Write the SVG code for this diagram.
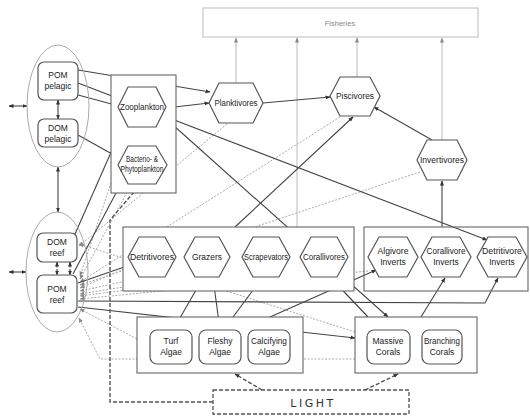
<svg xmlns="http://www.w3.org/2000/svg" width="530" height="417" viewBox="0 0 530 417">
<style>
.b{fill:#fff;stroke:#555;stroke-width:1.2}
.c{fill:#fff;stroke:#666;stroke-width:1.1}
.e{fill:none;stroke:#aaa;stroke-width:1}
.t{font-family:"Liberation Sans",Arial,sans-serif;font-size:8.5px;fill:#222;text-anchor:middle}
.ln{fill:none;stroke:#444;stroke-width:1.1;marker-end:url(#a)}
.dd{fill:none;stroke:#444;stroke-width:1.1;marker-start:url(#a);marker-end:url(#a)}
.lt{fill:none;stroke:#555;stroke-width:1.4;stroke-dasharray:4 2;marker-end:url(#a)}
.gf{fill:none;stroke:#bbb;stroke-width:1;marker-end:url(#g)}
.gd{fill:none;stroke:#aaa;stroke-width:1;stroke-dasharray:2 1.5;marker-end:url(#g)}
</style>
<defs>
<marker id="a" viewBox="0 0 10 10" refX="9" refY="5" markerWidth="5" markerHeight="5" markerUnits="userSpaceOnUse" orient="auto-start-reverse"><path d="M0,1 L10,5 L0,9z" fill="#333"/></marker>
<marker id="g" viewBox="0 0 10 10" refX="9" refY="5" markerWidth="5" markerHeight="5" markerUnits="userSpaceOnUse" orient="auto-start-reverse"><path d="M0,1 L10,5 L0,9z" fill="#888"/></marker>
</defs>
<rect width="530" height="417" fill="#fff"/>
<g id="connectors">
<path class="gd" d="M130,126 L80,276"/>
<path class="gd" d="M132,183 L80,279"/>
<path class="gd" d="M227,124 L79,246"/>
<path class="gd" d="M340,117 L80,282"/>
<path class="gd" d="M420,172 L80,285"/>
<path class="gd" d="M140,262 L80,288"/>
<path class="gd" d="M200,265 L80,291"/>
<path class="gd" d="M260,265 L80,294"/>
<path class="gd" d="M320,265 L80,296"/>
<path class="gd" d="M368,271 L80,299"/>
<path class="gd" d="M137,339 L80,309"/>
<path class="gd" d="M355,359 L100,359 L79,318"/>
<path class="gd" d="M355,332 L79,244"/>
<path class="gf" d="M236,83 L236,38"/>
<path class="gf" d="M297,227 L297,38"/>
<path class="gf" d="M357,77 L357,38"/>
<path class="gf" d="M442,140 L442,38"/>
<path class="ln" d="M78,70 L210,92"/>
<path class="ln" d="M78,83 L487,240"/>
<path class="ln" d="M78,95 L119,106"/>
<path class="ln" d="M78,135 L121,159"/>
<path class="dd" d="M58,100 L58,119"/>
<path class="dd" d="M58,167 L58,212"/>
<path class="dd" d="M9,106 L27,106"/>
<path class="dd" d="M9,272 L26,272"/>
<path class="ln" d="M142,146 L142,128"/>
<path class="ln" d="M166,108 L209,103"/>
<path class="ln" d="M263,103 L330,97"/>
<path class="ln" d="M432,140 L374,107"/>
<path class="ln" d="M164,117 L388,317"/>
<path class="ln" d="M235,227 L353,117"/>
<path class="ln" d="M442,227 L442,181"/>
<path class="ln" d="M75,234 L124,123"/>
<path class="ln" d="M73,274 L124,178"/>
<path class="ln" d="M78,283 L130,265"/>
<path class="ln" d="M78,301 L485,303 L498,278"/>
<path class="ln" d="M78,307 L355,338"/>
<path class="ln" d="M173,330 L203,278"/>
<path class="ln" d="M220,330 L213,278"/>
<path class="ln" d="M233,317 L262,278"/>
<path class="ln" d="M270,317 L376,270"/>
<path class="ln" d="M368,317 L331,278"/>
<path class="ln" d="M421,317 L445,278"/>
<path class="dd" d="M57,262 L57,275" stroke-dasharray="2 1.5"/>
<path class="dd" d="M70,262 L70,275" stroke-dasharray="2 1.5"/>
<path class="lt" d="M213,402 L110,402 L110,220 L140,185"/>
<path class="lt" d="M262,390 L235,374"/>
<path class="lt" d="M365,390 L398,374"/>
</g>
<g id="fisheries"><rect x="203" y="8" width="275" height="29" fill="#fff" stroke="#bbb" stroke-width="1"/><text x="340" y="26" class="t" style="fill:#888;font-size:7.5px">Fisheries</text></g>
<g id="pelagic-pool"><ellipse class="e" cx="58" cy="106" rx="31" ry="61"/></g>
<g id="reef-pool"><ellipse class="e" cx="57" cy="272" rx="31" ry="60"/></g>
<g id="pom-pelagic"><rect class="b" x="38" y="62" width="40" height="38" rx="6"/><text class="t" x="58" y="78">POM</text><text class="t" x="58" y="89">pelagic</text></g>
<g id="dom-pelagic"><rect class="b" x="38" y="119" width="40" height="28" rx="6"/><text class="t" x="58" y="131">DOM</text><text class="t" x="58" y="142">pelagic</text></g>
<g id="dom-reef"><rect class="b" x="37" y="233" width="40" height="29" rx="6"/><text class="t" x="57" y="245">DOM</text><text class="t" x="57" y="256">reef</text></g>
<g id="pom-reef"><rect class="b" x="37" y="275" width="40" height="38" rx="6"/><text class="t" x="57" y="292">POM</text><text class="t" x="57" y="303">reef</text></g>
<g id="plankton-box"><rect class="c" x="111" y="75" width="65" height="118"/></g>
<g id="zooplankton"><polygon class="b" points="118,107 128,87 156,87 166,107 156,127 128,127"/><text class="t" x="142" y="110" textLength="44" lengthAdjust="spacingAndGlyphs">Zooplankton</text></g>
<g id="phytoplankton"><polygon class="b" points="118,165 128,146 156,146 167,165 156,184 128,184"/><text class="t" x="142" y="162" textLength="32" lengthAdjust="spacingAndGlyphs">Bacterio- &amp;</text><text class="t" x="142" y="172" textLength="43" lengthAdjust="spacingAndGlyphs">Phytoplankton</text></g>
<g id="planktivores"><polygon class="b" points="209,103 219,83 253,83 263,103 253,123 219,123"/><text class="t" x="236" y="106" textLength="43" lengthAdjust="spacingAndGlyphs">Planktivores</text></g>
<g id="piscivores"><polygon class="b" points="330,96 340,77 370,77 380,96 370,116 340,116"/><text class="t" x="355" y="99" textLength="38" lengthAdjust="spacingAndGlyphs">Piscivores</text></g>
<g id="invertivores"><polygon class="b" points="417,160 427,140 457,140 467,160 457,180 427,180"/><text class="t" x="442" y="163" textLength="44" lengthAdjust="spacingAndGlyphs">Invertivores</text></g>
<g id="fish-box"><rect class="c" x="123" y="227" width="231" height="64"/></g>
<g id="detritivores"><polygon class="b" points="128,257 139,237 165,237 176,257 165,277 139,277"/><text class="t" x="152" y="260" textLength="44" lengthAdjust="spacingAndGlyphs">Detritivores</text></g>
<g id="grazers"><polygon class="b" points="184,257 195,237 219,237 230,257 219,277 195,277"/><text class="t" x="207" y="260">Grazers</text></g>
<g id="scrapevators"><polygon class="b" points="242,257 253,237 279,237 290,257 279,277 253,277"/><text class="t" x="266" y="260" textLength="44" lengthAdjust="spacingAndGlyphs">Scrapevators</text></g>
<g id="corallivores"><polygon class="b" points="300,257 311,237 337,237 348,257 337,277 311,277"/><text class="t" x="324" y="260" textLength="42" lengthAdjust="spacingAndGlyphs">Corallivores</text></g>
<g id="invert-box"><rect x="364" y="227" width="164" height="64" fill="none" stroke="#666" stroke-width="1.1"/></g>
<g id="algivore-inverts"><polygon class="b" points="368,257 379,237 407,237 418,257 407,277 379,277"/><text class="t" x="393" y="254" textLength="31" lengthAdjust="spacingAndGlyphs">Algivore</text><text class="t" x="393" y="265">Inverts</text></g>
<g id="corallivore-inverts"><polygon class="b" points="421,257 432,237 460,237 471,257 460,277 432,277"/><text class="t" x="446" y="254" textLength="39" lengthAdjust="spacingAndGlyphs">Corallivore</text><text class="t" x="446" y="265">Inverts</text></g>
<g id="detritivore-inverts"><polygon class="b" points="477,257 488,237 516,237 527,257 516,277 488,277"/><text class="t" x="502" y="254" textLength="40" lengthAdjust="spacingAndGlyphs">Detritivore</text><text class="t" x="502" y="265">Inverts</text></g>
<g id="algae-box"><rect class="c" x="137" y="317" width="166" height="56"/></g>
<g id="turf-algae"><rect class="b" x="150" y="330" width="42" height="34" rx="7"/><text class="t" x="171" y="344">Turf</text><text class="t" x="171" y="355">Algae</text></g>
<g id="fleshy-algae"><rect class="b" x="199" y="330" width="42" height="34" rx="7"/><text class="t" x="220" y="344">Fleshy</text><text class="t" x="220" y="355">Algae</text></g>
<g id="calcifying-algae"><rect class="b" x="248" y="330" width="42" height="34" rx="7"/><text class="t" x="269" y="344" textLength="36" lengthAdjust="spacingAndGlyphs">Calcifying</text><text class="t" x="269" y="355">Algae</text></g>
<g id="corals-box"><rect class="c" x="355" y="317" width="122" height="56"/></g>
<g id="massive-corals"><rect class="b" x="367" y="330" width="43" height="34" rx="7"/><text class="t" x="388" y="344">Massive</text><text class="t" x="388" y="355">Corals</text></g>
<g id="branching-corals"><rect class="b" x="422" y="330" width="40" height="34" rx="7"/><text class="t" x="442" y="344" textLength="36" lengthAdjust="spacingAndGlyphs">Branching</text><text class="t" x="442" y="355">Corals</text></g>
<g id="light"><rect x="213" y="390" width="196" height="24" fill="#fff" stroke="#555" stroke-width="1.3" stroke-dasharray="4 2"/><text x="313" y="407" style="font-family:'DejaVu Sans',sans-serif;font-size:11px;fill:#333;text-anchor:middle;letter-spacing:2.5px">LIGHT</text></g>
</svg>
